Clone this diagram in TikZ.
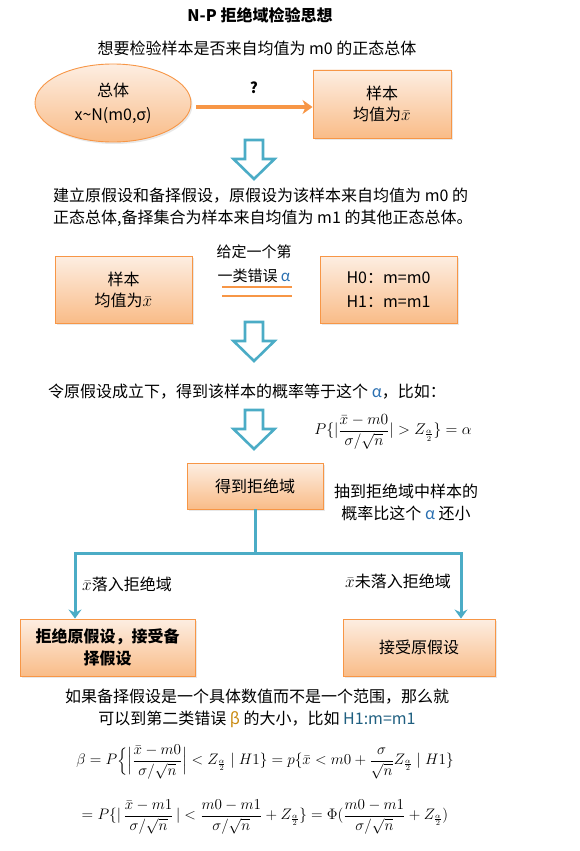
\documentclass[tikz,border=0pt]{standalone}
\usepackage{amsmath}
\usepackage{graphicx}
\usepackage{fontspec}
\setmainfont{Noto Sans CJK SC}
\usetikzlibrary{arrows.meta,shadows,shapes.geometric}
\definecolor{orD}{HTML}{F79646}
\definecolor{orT}{HTML}{FDEEE2}
\definecolor{orB}{HTML}{F9BC88}
\definecolor{blA}{HTML}{4BACC6}
\definecolor{alc}{HTML}{2A6FB0}
\definecolor{bec}{HTML}{C98A10}
\definecolor{h1c}{HTML}{1F5F80}
\tikzset{
  obox/.style={draw=orD, line width=0.9pt, top color=orT, bottom color=orB, align=center,
     font=\fontsize{16}{21}\selectfont, inner sep=2pt,
     drop shadow={opacity=0.18, shadow xshift=1.5pt, shadow yshift=-2pt}},
  txt/.style={font=\fontsize{16}{22}\selectfont, inner sep=0pt},
  hollow/.pic={\draw[blA, line width=2.6pt, fill=white, line join=miter]
     (-9,0) -- (9,0) -- (9,19) -- (20.5,19) -- (0,39) -- (-20.5,19) -- (-9,19) -- cycle;},
  bline/.style={draw=blA, line width=3pt},
}
\newcommand{\xb}{$\bar{x}$}
\begin{document}
\begin{tikzpicture}[x=1pt,y=-1pt]
\useasboundingbox (0,0) rectangle (580,851);
% title
\node[txt, font=\fontsize{16}{18}\selectfont\bfseries] (title) at (260,15) {N-P 拒绝域检验思想};
\node[txt] (l1) at (257,48) {想要检验样本是否来自均值为 m0 的正态总体};
% ellipse and first sample box
\node[ellipse, draw=orD, line width=0.9pt, top color=orT, bottom color=orB,
      minimum width=156pt, minimum height=78pt, align=center,
      font=\fontsize{16}{24}\selectfont,
      drop shadow={opacity=0.18, shadow xshift=1.5pt, shadow yshift=-2pt}] (pop) at (113,103)
      {总体\\x\textasciitilde N(m0,σ)};
\node[obox, minimum width=138pt, minimum height=68pt] (s1) at (382,104) {样本\\均值为\xb};
\draw[orD, line width=3.5pt, -{Stealth[length=10pt,width=14pt,inset=3pt]}] (pop.east |- 0,107) ++(5,0) coordinate (a0) -- (s1.west |- a0);
\node[txt, font=\fontsize{15}{16}\selectfont\bfseries] (q) at (254,88) {?};
% arrow 1
\pic (ar1) at (254,140) {hollow};
% paragraph
\node[txt, anchor=west, align=left] (p1) at (53,207)
  {建立原假设和备择假设，原假设为该样本来自均值为 m0 的\\正态总体,备择集合为样本来自均值为 m1 的其他正态总体。};
% second row
\node[obox, minimum width=137pt, minimum height=67pt] (s2) at (123.5,289.5) {样本\\均值为\xb};
\node[obox, minimum width=137pt, minimum height=67pt, font=\fontsize{16}{24}\selectfont] (hyp) at (388.5,289.5)
  {H0：m=m0\\H1：m=m1};
\node[txt, align=center, font=\fontsize{15}{24}\selectfont] (given) at (254,264) {给定一个第\\一类错误 {\color{alc}α}};
\coordinate (g1a) at (222,287); \coordinate (g1b) at (292,287);
\coordinate (g2a) at (222,296); \coordinate (g2b) at (292,296);
\draw[orD, line width=1.6pt] (g1a) -- (g1b);
\draw[orD, line width=1.6pt] (g2a) -- (g2b);
% arrow 2
\pic (ar2) at (254,322) {hollow};
\node[txt] (t3) at (247,392) {令原假设成立下，得到该样本的概率等于这个 {\color{alc}α}，比如：};
% arrow 3
\pic (ar3) at (254,410) {hollow};
\node[inner sep=0pt, font=\fontsize{14.4}{18}\selectfont] (f1) at (393,432)
  {\scalebox{1.08}{$P\{|\dfrac{\bar{x}-m0}{\sigma/\sqrt{n}}|>Z_{\frac{\alpha}{2}}\}=\alpha$}};
% reject region box
\node[obox, minimum width=136pt, minimum height=46pt] (rej) at (255,486) {得到拒绝域};
\node[txt, align=center] (t4) at (406,502) {抽到拒绝域中样本的\\概率比这个 {\color{alc}α} 还小};
% branches
\node[obox, minimum width=175pt, minimum height=57pt, font=\fontsize{16}{22}\selectfont\bfseries] (acc1) at (107.5,647.5)
  {拒绝原假设，接受备\\择假设};
\node[obox, minimum width=152pt, minimum height=57pt] (acc0) at (419,647.5) {接受原假设};
\coordinate (bm) at (255,553);
\coordinate (bl) at (75,553);
\coordinate (br) at (461,553);
\draw[bline] (rej.south) -- (bm);
\draw[bline, -{Stealth[length=9pt,width=13pt,inset=3pt]}] (bm) -- (bl) -- (bl |- acc1.north);
\draw[bline, -{Stealth[length=9pt,width=13pt,inset=3pt]}] (bm) -- (br) -- (br |- acc0.north);
\node[txt] (lab1) at (127,584) {\xb 落入拒绝域};
\node[txt] (lab2) at (398,581) {\xb 未落入拒绝域};
% bottom text
\node[txt, align=center] (t5) at (257,708)
  {如果备择假设是一个具体数值而不是一个范围，那么就\\可以到第二类错误 {\color{bec}β} 的大小，比如 {\color{h1c}H1:m=m1}};
\node[inner sep=0pt, font=\fontsize{14.4}{18}\selectfont] (f2) at (265,762)
  {\scalebox{1.055}{$\beta = P\Bigl\{\Bigl|\dfrac{\bar{x}-m0}{\sigma/\sqrt{n}}\Bigr| < Z_{\frac{\alpha}{2}} \mid H1\} = p\{\bar{x} < m0 + \dfrac{\sigma}{\sqrt{n}}Z_{\frac{\alpha}{2}} \mid H1\}$}};
\node[inner sep=0pt, font=\fontsize{14.4}{18}\selectfont] (f3) at (265,817)
  {\scalebox{1.055}{$= P\{|\,\dfrac{\bar{x}-m1}{\sigma/\sqrt{n}}\,| < \dfrac{m0-m1}{\sigma/\sqrt{n}} + Z_{\frac{\alpha}{2}}\} = \Phi(\dfrac{m0-m1}{\sigma/\sqrt{n}} + Z_{\frac{\alpha}{2}})$}};
\end{tikzpicture}
\end{document}
